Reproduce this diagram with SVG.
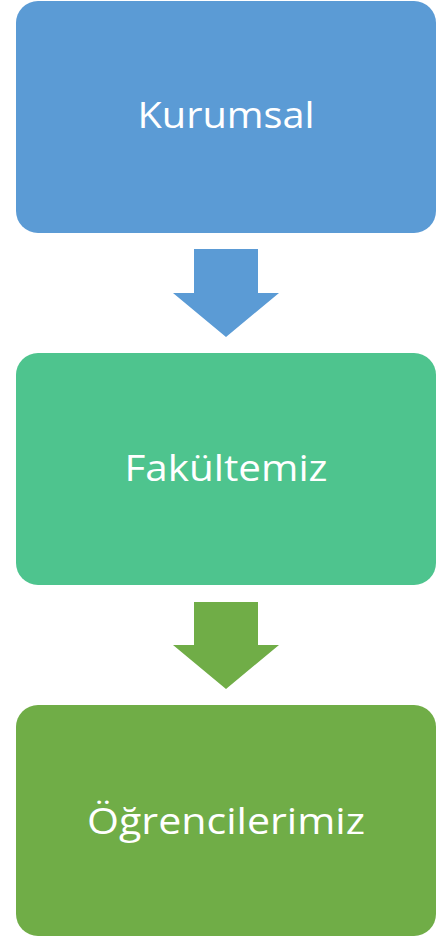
<svg xmlns="http://www.w3.org/2000/svg" width="447" height="937" viewBox="0 0 447 937">
<style>
.lbl{font-family:"Open Sans","Noto Sans","Liberation Sans",sans-serif;font-size:37px;fill:#ffffff;text-anchor:middle}
</style>
<rect width="447" height="937" fill="#ffffff"/>
<g id="node-kurumsal">
<rect x="16" y="1" width="420" height="232" rx="22" ry="22" fill="#5B9BD5"/>
<text class="lbl" x="226" y="128" textLength="177" lengthAdjust="spacingAndGlyphs">Kurumsal</text>
</g>
<g id="node-fakultemiz">
<rect x="16" y="353" width="420" height="232" rx="22" ry="22" fill="#4EC48E"/>
<text class="lbl" x="226" y="481" textLength="203" lengthAdjust="spacingAndGlyphs">Fakültemiz</text>
</g>
<g id="node-ogrencilerimiz">
<rect x="16" y="705" width="420" height="231" rx="22" ry="22" fill="#70AD47"/>
<text class="lbl" x="226" y="834" textLength="278" lengthAdjust="spacingAndGlyphs">Öğrencilerimiz</text>
</g>
<g id="connectors">
<polygon points="194,249 258,249 258,293 279,293 226,337 173,293 194,293" fill="#5B9BD5"/>
<polygon points="194,602 258,602 258,645 279,645 226,689 173,645 194,645" fill="#70AD47"/>
</g>
</svg>
